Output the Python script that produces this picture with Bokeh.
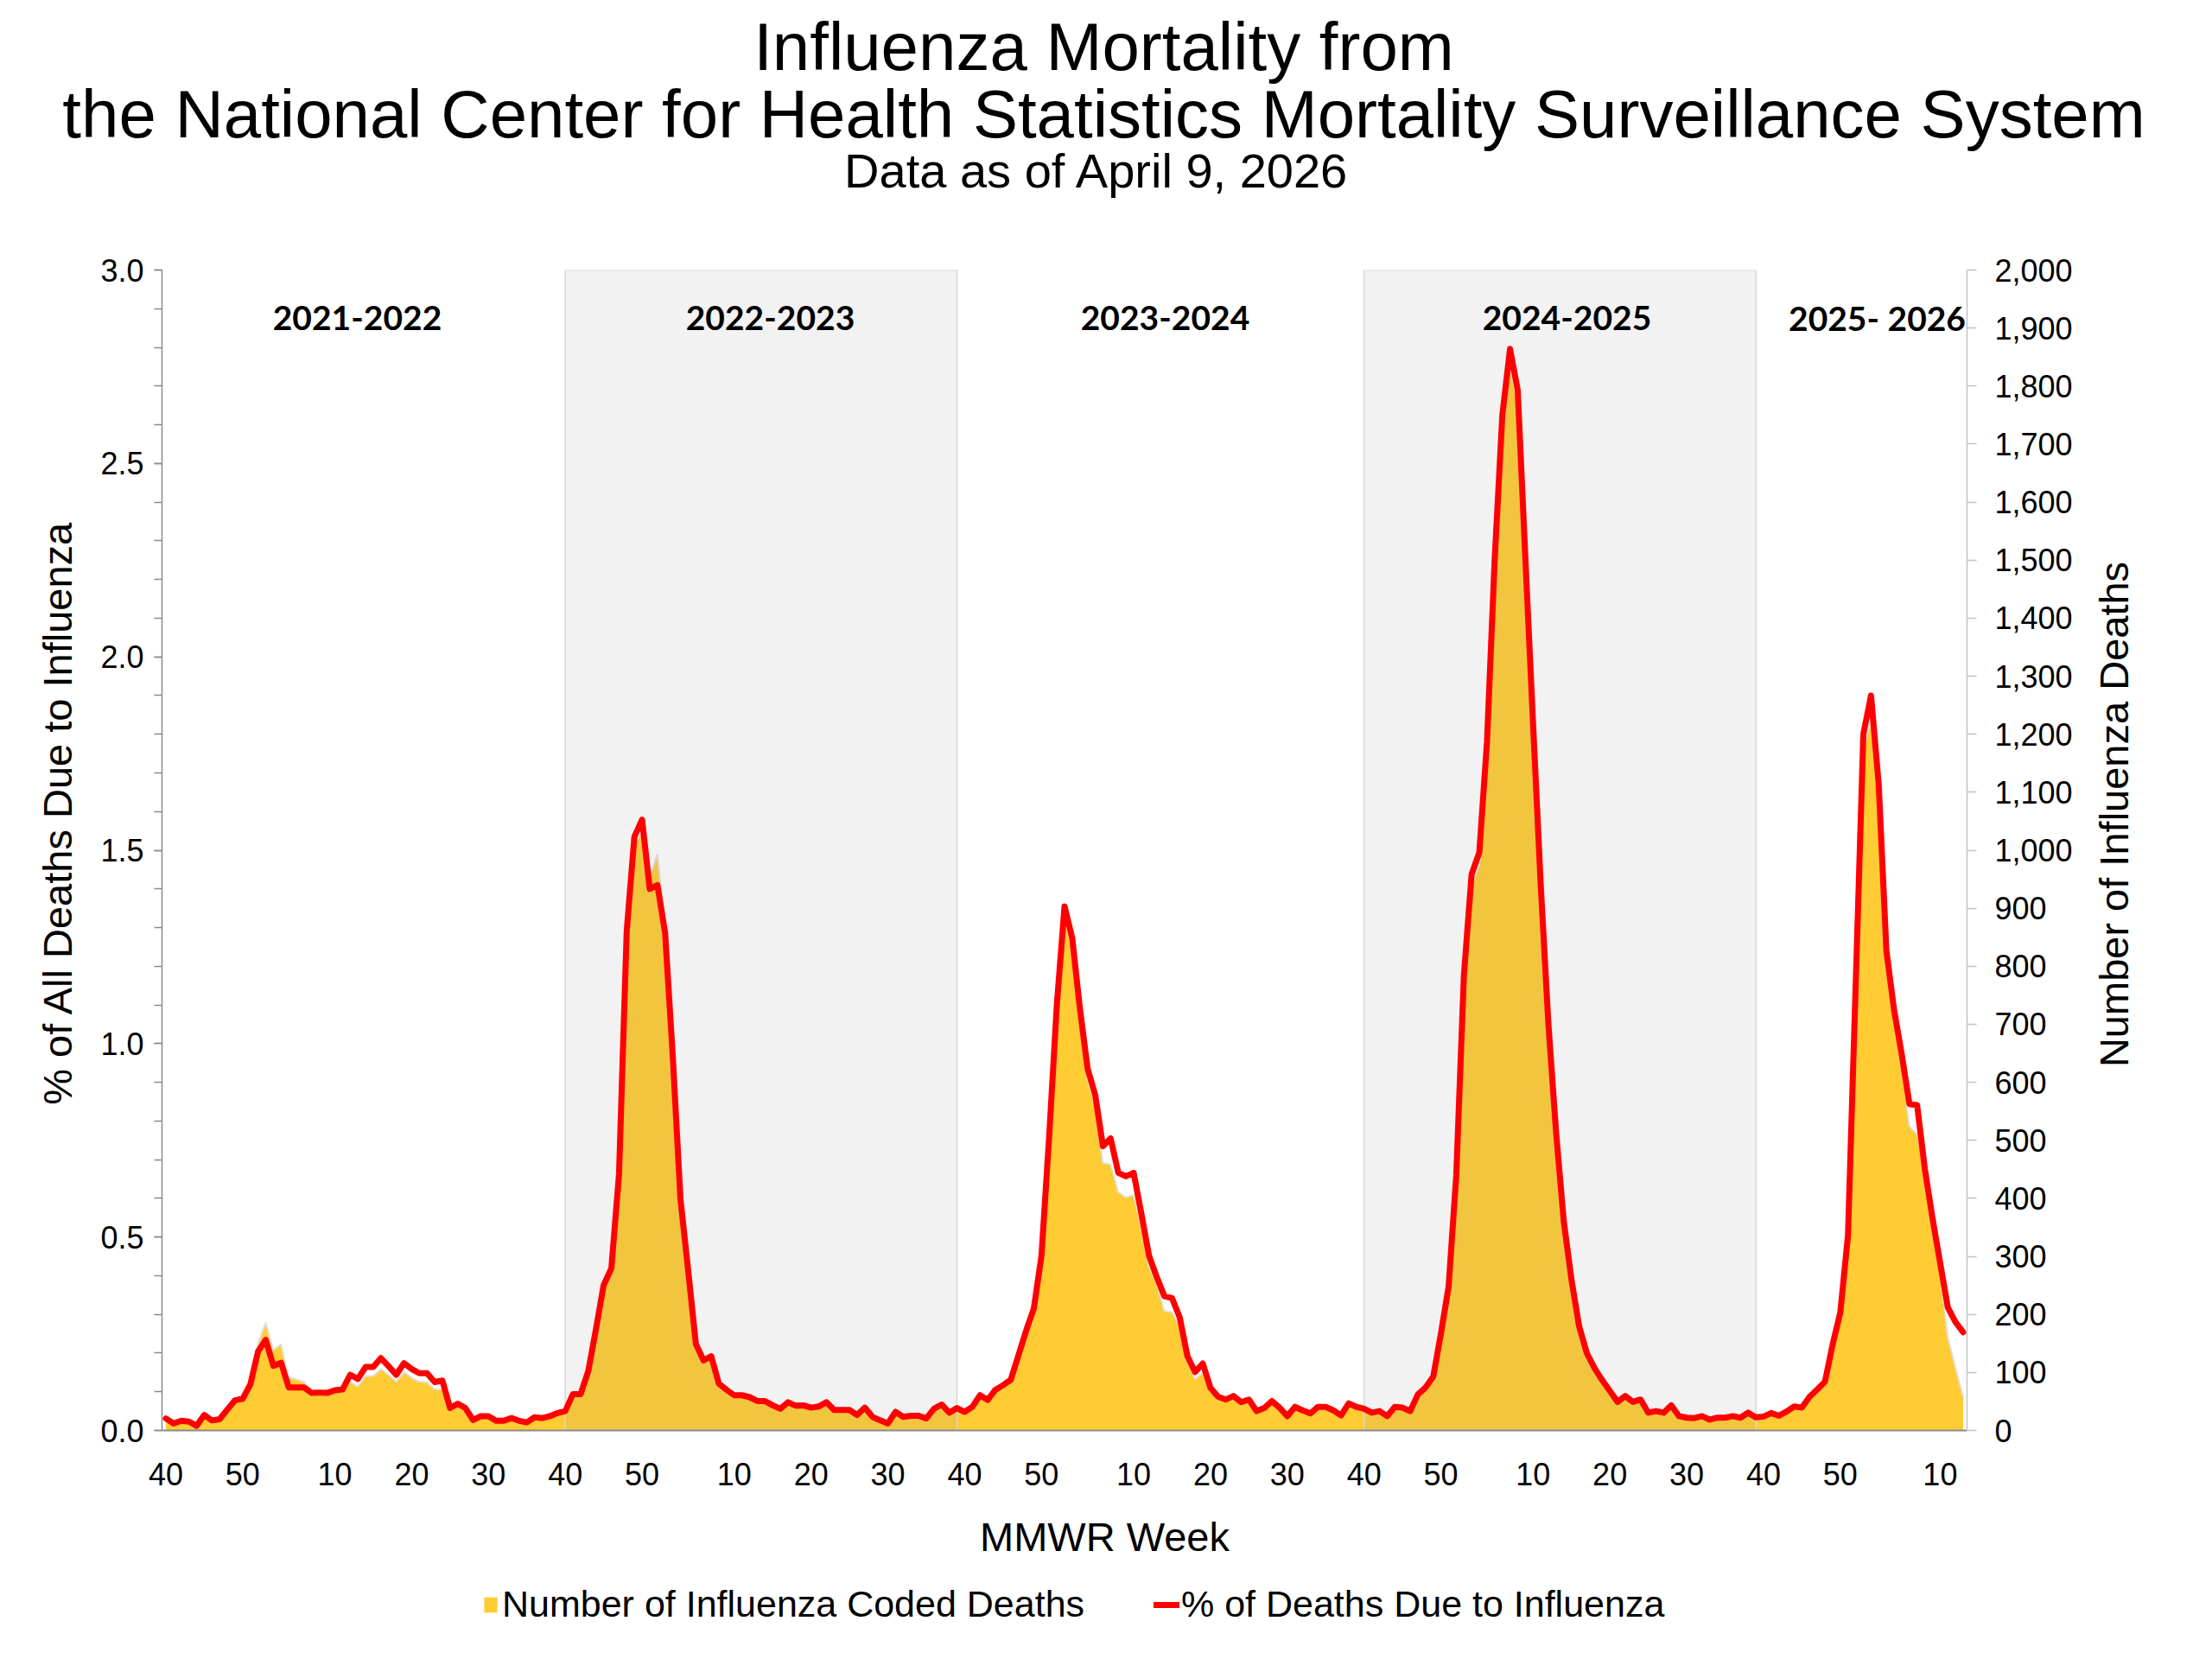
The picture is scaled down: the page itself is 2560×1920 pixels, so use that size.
import math
from bokeh.plotting import figure
from bokeh.layouts import column, row
from bokeh.models import (Range1d, LinearAxis, FixedTicker, SingleIntervalTicker,
                          PrintfTickFormatter, NumeralTickFormatter, Label, Legend,
                          LegendItem, ColumnDataSource)
from bokeh.core.properties import value
from bokeh.embed import file_html
from bokeh.resources import INLINE

# ---------------- data ----------------
title_lines = ["Influenza Mortality from",
               "the National Center for Health Statistics Mortality Surveillance System",
               "Data as of April  9, 2026"]
y_left_title = "% of All Deaths Due to Influenza"
y_right_title = "Number of Influenza Deaths"
x_title = "MMWR Week"
legend_labels = ["Number of Influenza Coded Deaths", "% of Deaths Due to Influenza"]
season_names = ["2021-2022", "2022-2023", "2023-2024", "2024-2025", "2025- 2026"]
season_first_year = [2021, 2022, 2023, 2024, 2025]
mmwr_weeks_in_year = {2021: 52, 2022: 52, 2023: 52, 2024: 52, 2025: 53}
last_week_2026 = 13
shaded_seasons = [1, 3]
week_tick_values = [40, 50, 10, 20, 30]

pct_2021_22 = [0.031, 0.018, 0.025, 0.023, 0.012, 0.040, 0.026, 0.029, 0.054, 0.078,
               0.082, 0.119, 0.204, 0.234, 0.167, 0.175, 0.111, 0.111, 0.111, 0.097,
               0.098, 0.097, 0.104, 0.106, 0.144, 0.133, 0.164, 0.164, 0.187, 0.166,
               0.144, 0.174, 0.159, 0.148, 0.148, 0.125, 0.129, 0.058, 0.069, 0.058,
               0.027, 0.037, 0.037, 0.025, 0.025, 0.032, 0.025, 0.021, 0.034, 0.032,
               0.037, 0.045]
pct_2022_23 = [0.050, 0.094, 0.094, 0.154, 0.262, 0.376, 0.419, 0.663, 1.291, 1.535,
               1.579, 1.400, 1.410, 1.286, 0.966, 0.598, 0.414, 0.224, 0.181, 0.192,
               0.121, 0.105, 0.091, 0.091, 0.086, 0.076, 0.076, 0.065, 0.056, 0.073,
               0.064, 0.065, 0.059, 0.062, 0.073, 0.053, 0.053, 0.053, 0.040, 0.059,
               0.035, 0.026, 0.018, 0.048, 0.035, 0.038, 0.038, 0.031, 0.056, 0.067,
               0.046, 0.058]
pct_2023_24 = [0.048, 0.061, 0.091, 0.079, 0.105, 0.117, 0.131, 0.194, 0.258, 0.315,
               0.452, 0.760, 1.100, 1.355, 1.273, 1.091, 0.936, 0.867, 0.735, 0.755,
               0.666, 0.657, 0.666, 0.561, 0.452, 0.397, 0.347, 0.342, 0.292, 0.192,
               0.151, 0.173, 0.110, 0.087, 0.080, 0.089, 0.073, 0.080, 0.050, 0.058,
               0.076, 0.059, 0.037, 0.061, 0.052, 0.044, 0.061, 0.061, 0.052, 0.039,
               0.070, 0.061]
pct_2024_25 = [0.056, 0.046, 0.050, 0.037, 0.061, 0.059, 0.050, 0.093, 0.111, 0.139,
               0.250, 0.371, 0.659, 1.178, 1.438, 1.494, 1.780, 2.250, 2.625, 2.796,
               2.690, 2.254, 1.827, 1.410, 1.050, 0.770, 0.540, 0.390, 0.269, 0.200,
               0.161, 0.130, 0.102, 0.074, 0.089, 0.074, 0.080, 0.046, 0.050, 0.046,
               0.065, 0.037, 0.033, 0.032, 0.037, 0.028, 0.033, 0.033, 0.037, 0.033,
               0.046, 0.034]
pct_2025_26 = [0.036, 0.045, 0.038, 0.049, 0.062, 0.059, 0.087, 0.106, 0.126, 0.222,
               0.305, 0.504, 1.150, 1.800, 1.900, 1.671, 1.241, 1.087, 0.972, 0.844,
               0.841, 0.677, 0.549, 0.433, 0.318, 0.280, 0.254]

deaths_2021_22 = [17, 12, 15, 15, 8, 24, 17, 19, 34, 50,
                  53, 80, 150, 186, 139, 149, 92, 88, 84, 64,
                  64, 64, 68, 70, 84, 76, 94, 94, 106, 96,
                  84, 101, 91, 84, 83, 71, 71, 36, 42, 36,
                  16, 22, 22, 15, 15, 19, 15, 12, 20, 19,
                  22, 27]
deaths_2022_23 = [30, 60, 60, 100, 172, 250, 278, 430, 850, 1010,
                  1030, 955, 993, 870, 640, 395, 272, 146, 118, 125,
                  78, 68, 59, 59, 56, 49, 49, 42, 36, 47,
                  41, 42, 38, 40, 47, 34, 34, 34, 26, 38,
                  22, 17, 12, 31, 22, 24, 24, 20, 36, 43,
                  30, 37]
deaths_2023_24 = [31, 39, 59, 51, 68, 76, 85, 126, 168, 206,
                  296, 500, 725, 885, 830, 705, 605, 560, 461, 459,
                  411, 402, 406, 350, 283, 253, 206, 204, 180, 119,
                  89, 100, 68, 54, 50, 56, 46, 50, 31, 36,
                  48, 37, 23, 38, 33, 28, 38, 38, 33, 25,
                  44, 38]
deaths_2024_25 = [36, 29, 32, 24, 39, 38, 32, 60, 72, 90,
                  163, 242, 430, 770, 940, 975, 1165, 1470, 1720, 1835,
                  1770, 1480, 1195, 920, 685, 500, 350, 252, 174, 129,
                  104, 84, 66, 48, 57, 48, 52, 30, 32, 30,
                  42, 24, 21, 21, 24, 18, 21, 21, 24, 21,
                  30, 22]
deaths_2025_26 = [23, 29, 25, 32, 40, 38, 56, 69, 82, 145,
                  198, 328, 750, 1175, 1225, 1085, 810, 712, 631, 524,
                  511, 451, 357, 272, 161, 109, 58]

# ---------------- build series ----------------
weeks = []
season_start = []
for y in season_first_year:
    season_start.append(len(weeks))
    weeks += list(range(40, mmwr_weeks_in_year[y] + 1))
    if y == 2025:
        weeks += list(range(1, last_week_2026 + 1))
    else:
        weeks += list(range(1, 40))
N = len(weeks)
idx = list(range(N))
pct = pct_2021_22 + pct_2022_23 + pct_2023_24 + pct_2024_25 + pct_2025_26
deaths = deaths_2021_22 + deaths_2022_23 + deaths_2023_24 + deaths_2024_25 + deaths_2025_26
assert len(pct) == N and len(deaths) == N

tick_pos = [i for i, w in enumerate(weeks) if w in week_tick_values]
tick_lab = {i: str(weeks[i]) for i in tick_pos}

shade_left = [season_start[s] for s in shaded_seasons]
shade_right = [season_start[s + 1] - 1 for s in shaded_seasons]

FONT = "Liberation Sans"
YELLOW = "#FFCC33"
RED = "#FF0000"

# ---------------- page geometry (page px, 8px margin) ----------------
W = 2544
HA = 282                 # header: page y 8..290
Y_MID = 8 + HA           # 290
HM = 1443                # middle row: page y 290..1733
Y_FOOT = Y_MID + HM      # 1733
HF = 1912 - Y_FOOT       # footer height
LW = 100                 # left label strip: page x 8..108
X_P = 8 + LW
RX = 2418                # right strip starts at page x
PW = RX - X_P            # main figure width
RW = 8 + W - RX          # right strip width
FR_L, FR_R, FR_T, FR_B = 195, 2284, 320, 1663


def blank(width, height):
    f = figure(width=width, height=height, x_range=Range1d(0, width),
               y_range=Range1d(0, height), output_backend="svg",
               toolbar_location=None, x_axis_type=None, y_axis_type=None,
               title_location=None,
               min_border_left=0, min_border_right=0, min_border_top=0,
               min_border_bottom=0)
    f.outline_line_color = None
    f.background_fill_color = "white"
    f.border_fill_color = "white"
    try:
        f.frame_align = False
    except Exception:
        pass
    return f


# header
head = blank(W, HA)
head_src = ColumnDataSource(dict(x=[1285 - 8] * 3,
                                 y=[HA - (61 - 8), HA - (139 - 8), HA - (205 - 8)],
                                 text=title_lines, size=["78px", "78px", "56px"]))
head.text(x="x", y="y", text="text", source=head_src, text_font=value(FONT),
          text_font_size="size", text_align="center", text_baseline="alphabetic",
          text_color="black")

# left strip (y axis title)
lfig = blank(LW, HM)
lfig.text(x=[74 - 8], y=[HM - (948 - Y_MID)], text=[y_left_title], angle=math.pi / 2,
          text_font=value(FONT), text_font_size="47px", text_align="center",
          text_baseline="alphabetic", text_color="black")

# right strip (secondary y axis title)
rfig = blank(RW, HM)
rfig.text(x=[2454 - RX], y=[HM - (950 - Y_MID)], text=[y_right_title], angle=math.pi / 2,
          text_font=value(FONT), text_font_size="47px", text_align="center",
          text_baseline="alphabetic", text_color="black")

# ---------------- main chart ----------------
p = figure(width=PW, height=HM, x_range=Range1d(-0.5, N - 0.5), y_range=Range1d(0, 3),
           output_backend="svg", toolbar_location=None, title_location=None,
           min_border_left=FR_L - X_P, min_border_right=RX - FR_R,
           min_border_top=FR_T - Y_MID, min_border_bottom=Y_FOOT - FR_B)
try:
    p.frame_align = False
except Exception:
    pass
p.outline_line_color = None
p.xgrid.visible = False
p.ygrid.visible = False
p.background_fill_color = "white"
p.border_fill_color = "white"
p.extra_y_ranges = {"deaths": Range1d(0, 2000)}

src = ColumnDataSource(dict(x=idx, pct=pct, deaths=deaths))

area = p.varea(x="x", y1=0, y2="deaths", source=src, y_range_name="deaths",
               fill_color=YELLOW)
p.line("x", "deaths", source=src, y_range_name="deaths", line_color="#e2e2e2",
       line_width=2)
shade_src = ColumnDataSource(dict(left=shade_left, right=shade_right))
p.quad(left="left", right="right", bottom=0, top=3, source=shade_src,
       fill_color="#969696", fill_alpha=0.125, line_color="#d6d6d6", line_width=1.5)
red = p.line("x", "pct", source=src, line_color=RED, line_width=7,
             line_join="round", line_cap="round")

# left axis
ya = p.yaxis[0]
ya.ticker = SingleIntervalTicker(interval=0.5, num_minor_ticks=5)
ya.formatter = PrintfTickFormatter(format="%.1f")
ya.axis_line_color = "#8a8a8a"
ya.axis_line_width = 1.5
ya.major_tick_line_color = "#8a8a8a"
ya.minor_tick_line_color = "#8a8a8a"
ya.major_tick_line_width = 1.5
ya.minor_tick_line_width = 1.5
ya.major_tick_out = 9
ya.major_tick_in = 0
ya.minor_tick_out = 9
ya.minor_tick_in = 0
ya.major_label_standoff = 12
ya.major_label_text_font = FONT
ya.major_label_text_font_size = "36px"
ya.major_label_text_color = "black"

# right axis
ra = LinearAxis(y_range_name="deaths",
                ticker=SingleIntervalTicker(interval=100, num_minor_ticks=0),
                formatter=NumeralTickFormatter(format="0,0"))
ra.axis_line_color = "#c4c4c4"
ra.axis_line_width = 1.5
ra.major_tick_line_color = "#c4c4c4"
ra.major_tick_line_width = 1.5
ra.major_tick_out = 11
ra.major_tick_in = 0
ra.minor_tick_line_color = None
ra.major_label_standoff = 21
ra.major_label_text_font = FONT
ra.major_label_text_font_size = "36px"
ra.major_label_text_color = "black"
p.add_layout(ra, "right")

# bottom axis
xa = p.xaxis[0]
xa.ticker = FixedTicker(ticks=tick_pos)
xa.major_label_overrides = tick_lab
xa.axis_line_color = "#8a8a8a"
xa.axis_line_width = 2
xa.major_tick_line_color = None
xa.minor_tick_line_color = None
xa.major_label_standoff = 31
xa.major_label_text_font = FONT
xa.major_label_text_font_size = "36px"
xa.major_label_text_color = "black"

# season labels (inside plot area)
PPX = (FR_R - FR_L) / N
PPY = (FR_B - FR_T) / 3.0
season_label_px = [421, 899, 1356, 1821, 2180]
for name, xp in zip(season_names, season_label_px):
    p.add_layout(Label(x=-0.5 + (xp - FR_L) / PPX, y=(FR_B - 375) / PPY,
                       text=name, text_font="Lato", text_font_style="bold",
                       text_font_size="39px", text_color="black",
                       text_align="center", text_baseline="middle"))

# ---------------- footer (x axis title + legend) ----------------
foot = blank(W, HF)
foot.text(x=[1286 - 8], y=[HF - (1786 - Y_FOOT)], text=[x_title], text_font=value(FONT),
          text_font_size="47px", text_align="center", text_baseline="alphabetic",
          text_color="black")
# legend keys: renderers that carry the series styles (drawn outside the visible range)
key_a = ColumnDataSource(dict(x=[-50, -40], y1=[-50, -50], y2=[-50, -50]))
key_l = ColumnDataSource(dict(x=[-50, -40], y=[-50, -50]))
key_area = foot.varea(x="x", y1="y1", y2="y2", source=key_a, fill_color=YELLOW)
key_line = foot.line(x="x", y="y", source=key_l, line_color=RED, line_width=7,
                     line_cap="round")
leg_cy = 1865 - Y_FOOT
leg_h = 48
common = dict(orientation="horizontal", padding=0, margin=0, border_line_color=None,
              background_fill_alpha=0, label_text_font=FONT,
              label_text_font_size="43px", label_height=leg_h, glyph_height=22,
              label_text_color="black")
leg1 = Legend(items=[LegendItem(label=legend_labels[0], renderers=[key_area])],
              location=(566 - 8, HF - leg_cy - leg_h // 2), glyph_width=19,
              label_standoff=4, **common)
leg2 = Legend(items=[LegendItem(label=legend_labels[1], renderers=[key_line])],
              location=(1343 - 8, HF - leg_cy - leg_h // 2), glyph_width=30,
              label_standoff=2, **common)
foot.add_layout(leg1)
foot.add_layout(leg2)

layout = column(head, row(lfig, p, rfig, spacing=0), foot, spacing=0)
open("out.html", "w").write(file_html(layout, INLINE))
